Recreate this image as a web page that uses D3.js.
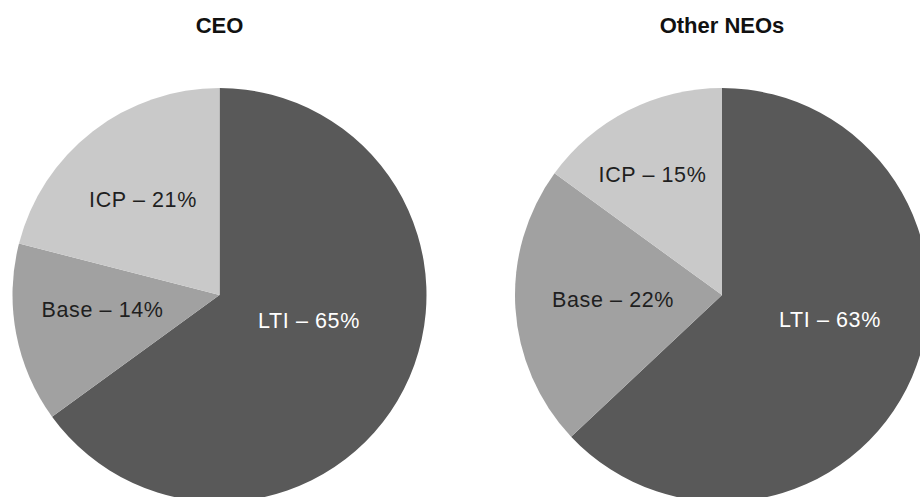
<!DOCTYPE html>
<html>
<head>
<meta charset="utf-8">
<script src="https://cdn.jsdelivr.net/npm/d3@7"></script>
<style>
  html, body { margin: 0; padding: 0; background: #fff; }
  svg { display: block; }
</style>
</head>
<body>
<svg id="chart" width="920" height="497"></svg>
<script>
// ---- data ----
const titles = ["CEO", "Other NEOs"];
const categories = ["LTI", "Base", "ICP"];
const ceoValues = [65, 14, 21];
const neoValues = [63, 22, 15];

// ---- layout / style ----
const colors = { LTI: "#595959", Base: "#a1a1a1", ICP: "#c9c9c9" };
const textColors = { LTI: "#ffffff", Base: "#1f1f1f", ICP: "#1f1f1f" };
const radius = 207;
const centers = [[219.5, 295], [722, 295]];
// label offsets (center of text) relative to pie centre, per chart, per category
const labelOffsets = [
  { LTI: [89.5, 25.5], Base: [-117, 14.5], ICP: [-76.5, -95.5] },
  { LTI: [108, 24.5], Base: [-109, 4.5], ICP: [-69.5, -120.5] }
];

const svg = d3.select("#chart");
const pie = d3.pie().sort(null).value(d => d.value);
const arc = d3.arc().innerRadius(0).outerRadius(radius);

[ceoValues, neoValues].forEach((vals, i) => {
  const data = categories.map((c, k) => ({ cat: c, value: vals[k] }));
  const g = svg.append("g").attr("transform", `translate(${centers[i][0]},${centers[i][1]})`);
  g.selectAll("path").data(pie(data)).join("path")
    .attr("d", arc)
    .attr("fill", d => colors[d.data.cat]);
  g.selectAll("text").data(data).join("text")
    .attr("x", d => labelOffsets[i][d.cat][0])
    .attr("y", d => labelOffsets[i][d.cat][1])
    .attr("text-anchor", "middle")
    .attr("dominant-baseline", "central")
    .attr("font-family", "Liberation Sans, Arial, sans-serif")
    .attr("font-size", 21.5)
    .attr("letter-spacing", "0.6px")
    .attr("fill", d => textColors[d.cat])
    .text(d => `${d.cat} \u2013 ${d.value}%`);
  svg.append("text")
    .attr("x", centers[i][0])
    .attr("y", 33)
    .attr("text-anchor", "middle")
    .attr("font-family", "Liberation Sans, Arial, sans-serif")
    .attr("font-weight", "bold")
    .attr("font-size", 22)
    .attr("fill", "#111")
    .text(titles[i]);
});
</script>
</body>
</html>
